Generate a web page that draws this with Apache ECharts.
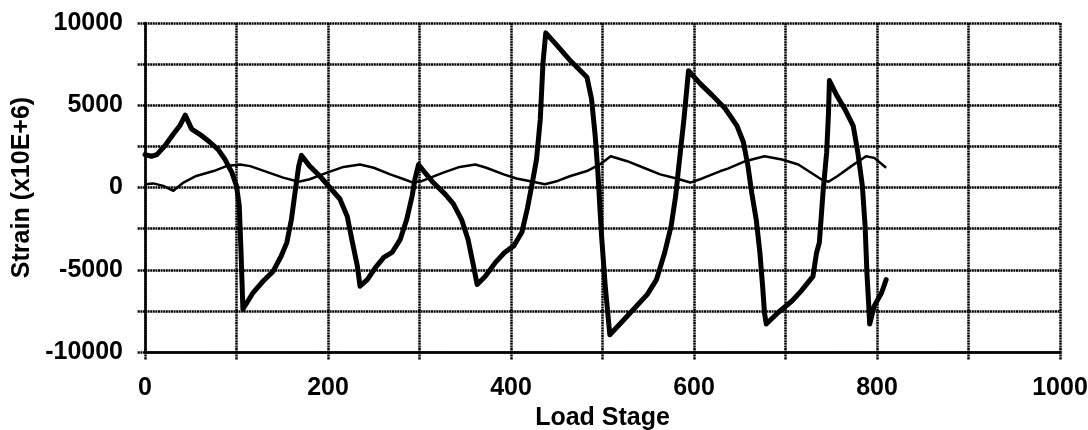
<!DOCTYPE html>
<html>
<head>
<meta charset="utf-8">
<script src="https://cdn.jsdelivr.net/npm/echarts@6/dist/echarts.min.js"></script>
<style>
  html, body { margin: 0; padding: 0; background: #fff; }
  #chart { width: 1088px; height: 430px; }
</style>
</head>
<body>
<div id="chart"></div>
<script>
// 粗线：主应变 (Load Stage, Strain)
var thickStrain = [
    [0, 2000], [7, 1900], [13, 2000], [22, 2550], [31, 3250], [38, 3750], [44, 4400], [51, 3550],
    [62, 3150], [71, 2750], [80, 2300], [87, 1750], [95, 900], [100, 100], [103, -1100], [105, -4000],
    [107, -7400], [118, -6400], [129, -5700], [140, -5100], [149, -4150], [155, -3350], [160, -1950],
    [164, -300], [168, 1300], [171, 1950], [180, 1300], [191, 700], [202, 0], [213, -700], [221, -1750],
    [226, -3150], [232, -4750], [235, -6000], [243, -5600], [252, -4850], [261, -4250], [270, -3950],
    [279, -3150], [286, -1950], [292, -500], [295, 500], [299, 1400], [306, 900], [315, 300], [328, -400],
    [337, -1000], [346, -1950], [353, -3150], [359, -4750], [363, -5900], [372, -5400], [383, -4550],
    [393, -3950], [403, -3550], [412, -2700], [418, -1250], [424, 500], [428, 1750], [432, 4150],
    [435, 7600], [438, 9400], [450, 8650], [465, 7700], [474, 7200], [483, 6700], [488, 5400],
    [492, 3150], [495, 900], [497, -1100], [499, -2950], [503, -6000], [508, -8950], [519, -8300],
    [534, -7400], [549, -6500], [559, -5600], [568, -3950], [575, -2350], [580, -500], [583, 1100],
    [589, 4150], [594, 7100], [607, 6300], [620, 5600], [634, 4800], [647, 3750], [654, 2750],
    [659, 1300], [663, -300], [668, -1950], [672, -3950], [675, -6000], [677, -7600], [679, -8300],
    [692, -7600], [707, -6900], [717, -6300], [730, -5400], [734, -3950], [737, -3350], [741, -300],
    [745, 2150], [747, 4550], [748, 6500], [756, 5600], [765, 4750], [774, 3750], [779, 2150],
    [784, 100], [787, -2350], [789, -5200], [791, -7200], [792, -8300], [797, -7200], [805, -6400],
    [810, -5600]
];

// 细线
var thinStrain = [
    [0, 200], [9, 250], [20, 100], [31, -200], [42, 300], [56, 700], [75, 1000], [89, 1300],
    [104, 1400], [115, 1300], [133, 950], [151, 600], [168, 350], [180, 500], [199, 900], [217, 1250],
    [235, 1400], [250, 1200], [268, 800], [283, 500], [293, 300], [303, 400], [312, 600], [326, 900],
    [344, 1250], [361, 1400], [373, 1200], [392, 800], [406, 550], [424, 350], [437, 200], [451, 400],
    [465, 700], [483, 1000], [497, 1400], [509, 1900], [527, 1600], [545, 1200], [563, 800], [581, 550],
    [596, 300], [609, 550], [629, 1000], [637, 1150], [656, 1600], [677, 1900], [696, 1700], [714, 1400],
    [728, 900], [739, 500], [747, 350], [757, 700], [772, 1300], [788, 1900], [797, 1800], [810, 1200]
];

var xLabelStep = 200;
var yLabelStep = 5000;

var font = "'Liberation Sans', Arial, sans-serif";
var gridStyle = { color: '#000', width: 2.5, type: [2, 0.6] };

var chart = echarts.init(document.getElementById('chart'));
chart.setOption({
    animation: false,
    // 不让轴名称把绘图区往里挤
    grid: { left: 145, right: 28, top: 23, bottom: 78, containLabel: false, outerBoundsMode: 'none' },
    xAxis: {
        type: 'value',
        min: 0, max: 1000, interval: 100,
        name: 'Load Stage',
        nameLocation: 'middle',
        nameGap: 51,
        nameTextStyle: { color: '#000', fontFamily: font, fontWeight: 'bold', fontSize: 25 },
        axisLine: { show: true, onZero: false, lineStyle: gridStyle },
        axisTick: { show: true, length: 8, lineStyle: gridStyle },
        splitLine: { show: true, lineStyle: gridStyle },
        axisLabel: {
            margin: 24, color: '#000', fontFamily: font, fontWeight: 'bold', fontSize: 25,
            formatter: function (v) { return v % xLabelStep === 0 ? String(v) : ''; }
        }
    },
    yAxis: {
        type: 'value',
        min: -10000, max: 10000, interval: 2500,
        name: 'Strain (x10E+6)',
        nameLocation: 'middle',
        nameGap: 108,
        nameTextStyle: { color: '#000', fontFamily: font, fontWeight: 'bold', fontSize: 25 },
        axisLine: { show: true, onZero: false, lineStyle: gridStyle },
        axisTick: { show: true, length: 8, lineStyle: gridStyle },
        splitLine: { show: true, lineStyle: gridStyle },
        axisLabel: {
            margin: 22, color: '#000', fontFamily: font, fontWeight: 'bold', fontSize: 25,
            formatter: function (v) { return v % yLabelStep === 0 ? String(v) : ''; }
        }
    },
    series: [
        {
            type: 'line',
            data: thinStrain,
            showSymbol: false,
            lineStyle: { color: '#000', width: 2.5, join: 'round' }
        },
        {
            type: 'line',
            data: thickStrain,
            showSymbol: false,
            lineStyle: { color: '#000', width: 5, join: 'round', cap: 'round' }
        }
    ]
});
</script>
</body>
</html>
